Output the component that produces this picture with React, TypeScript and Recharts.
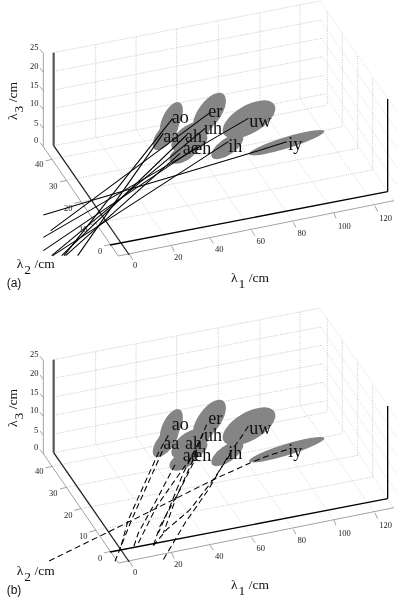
import React from "react";
import { ScatterChart, Scatter, XAxis, YAxis } from "recharts";

type P = { x: number; y: number; [k: string]: any };
const pt = (a: number[][]): P[] => a.map(([x, y]) => ({ x, y }));

// All values are picture-plane readings (3 units per pixel) of the projected 3-D box.
const backLeft = [158, 214, 270, 325, 381, 437];
const backRightX = [960, 962, 965, 968, 970, 975];
const backRightY = [3, 60, 115, 170, 226, 282];
const sideEndY = [334, 390, 446, 501, 557, 605];
const sideEndX = [1190, 1190, 1190, 1190, 1190, 1182];

const backVerticals = [
  [287, 134, 410], [408, 112, 388], [530, 88, 365], [655, 65, 342], [780, 40, 318], [900, 15, 295],
];
const sideVerticals = [
  [982, 35, 315], [1027, 100, 380], [1073, 168, 445], [1118, 235, 510],
];
const floorL1 = [
  [287, 410, 515, 738], [408, 388, 630, 715], [530, 365, 755, 692],
  [655, 342, 880, 667], [780, 318, 1002, 640], [900, 295, 1125, 618],
];
const floorL2 = [
  [288, 670, 1118, 510], [243, 605, 1073, 445], [200, 541, 1027, 380], [156, 478, 982, 315],
];
const thinAxes = [
  [130, 160, 130, 440], [130, 440, 355, 768], [355, 768, 1182, 602],
];
const l3TickY = [160, 216, 272, 328, 384, 440];
const l2Ticks = [[331, 733, 312, 738], [288, 670, 268, 675], [243, 605, 223, 610], [200, 541, 180, 546], [156, 478, 136, 483]];
const l1Ticks = [
  [390, 765, 398, 780], [515, 738, 523, 755], [630, 715, 640, 730], [755, 692, 765, 707],
  [880, 667, 888, 682], [1002, 640, 1008, 655], [1125, 618, 1133, 635],
];

const tickLabels = [
  ["25", 103, 150], ["20", 103, 207], ["15", 103, 263], ["10", 103, 318], ["5", 108, 378], ["0", 108, 429],
  ["40", 118, 501], ["30", 160, 566], ["20", 205, 634], ["10", 250, 696], ["0", 300, 761],
  ["0", 405, 804], ["20", 535, 781], ["40", 658, 757], ["60", 782, 733], ["80", 905, 709], ["100", 1033, 686], ["120", 1157, 663],
];

const phonemes = ["ao", "aa", "er", "ah", "uh", "ae", "eh", "uw", "ih", "iy"];
const ellipseX = [514, 497, 628, 565, 603, 550, 573, 747, 682, 860];
const ellipseY = [360, 405, 340, 410, 390, 460, 435, 358, 440, 428];
const ellipseMajor = [58, 54, 72, 60, 44, 46, 55, 88, 56, 118];
const ellipseMinor = [27, 25, 34, 31, 24, 24, 25, 42, 24, 17];
const ellipseAngle = [-65, -52, -55, -38, -60, -30, -30, -30, -35, -17];

const labelX = [515, 490, 625, 555, 612, 548, 583, 748, 685, 865];
const labelY = [370, 425, 350, 425, 403, 463, 463, 380, 457, 450];

const solidTraces = [
  [[518, 355], [192, 767]],
  [[490, 400], [233, 767]],
  [[630, 338], [152, 692]],
  [[560, 405], [185, 767]],
  [[615, 385], [155, 767]],
  [[540, 460], [197, 767]],
  [[585, 445], [130, 752]],
  [[745, 355], [130, 712]],
  [[685, 425], [158, 767]],
  [[860, 425], [750, 460], [500, 535], [330, 585], [130, 645]],
];
const dashedTraces = [
  [[505, 385], [475, 438], [430, 538], [385, 638], [360, 728]],
  [[487, 433], [440, 538], [395, 638], [345, 763]],
  [[620, 353], [600, 398], [550, 498], [510, 598], [475, 678]],
  [[590, 428], [540, 498], [470, 598], [415, 708]],
  [[610, 378], [575, 468], [530, 568], [490, 678]],
  [[525, 473], [470, 578], [415, 678], [400, 723]],
  [[580, 468], [540, 548], [480, 658], [460, 716]],
  [[745, 358], [725, 388], [690, 438], [625, 548], [555, 648], [490, 758]],
  [[690, 443], [640, 518], [570, 608], [500, 668], [460, 716]],
  [[860, 428], [800, 448], [750, 468], [640, 518], [520, 578], [390, 643], [145, 763]],
];

const SERIF = "Liberation Serif, Times New Roman, serif";
const SANS = "Liberation Sans, Arial, sans-serif";
const UNIT = 1 / 3;
const W = 401;
const H = 300;

const Nothing = () => null;

function seg(key: string, pts: P[], stroke: string, strokeWidth: number, dash?: string) {
  return (
    <Scatter
      key={key}
      data={pts}
      isAnimationActive={false}
      shape={Nothing as any}
      lineType="joint"
      line={{ stroke, strokeWidth, strokeDasharray: dash, fill: "none" } as any}
    />
  );
}

const EllipseShape = (p: any) => (
  <ellipse
    cx={p.cx}
    cy={p.cy}
    rx={p.payload.major * UNIT}
    ry={p.payload.minor * UNIT}
    fill="#858585"
    transform={`rotate(${p.payload.angle} ${p.cx} ${p.cy})`}
  />
);

const TickText = (p: any) => (
  <text x={p.cx} y={p.cy} fontFamily={SERIF} fontSize={8.5} fill="#222" textAnchor="middle">
    {p.payload.text}
  </text>
);
const PhonemeText = (p: any) => (
  <text x={p.cx} y={p.cy} fontFamily={SERIF} fontSize={18} fill="#111">
    {p.payload.text}
  </text>
);
const TitleText = (p: any) => (
  <text
    x={p.cx}
    y={p.cy}
    fontFamily={SERIF}
    fontSize={13.5}
    fill="#111"
    transform={p.payload.rot ? `rotate(${p.payload.rot} ${p.cx} ${p.cy})` : undefined}
  >
    <tspan>λ</tspan>
    <tspan dy={6} dx={1}>{p.payload.sub}</tspan>
    <tspan dy={-6} dx={3.5}>/cm</tspan>
  </text>
);
const PanelText = (p: any) => (
  <text x={p.cx} y={p.cy} fontFamily={SANS} fontSize={12} fill="#111">
    {p.payload.text}
  </text>
);

const ellipses = phonemes.map((name, i) => ({
  x: ellipseX[i], y: ellipseY[i], major: ellipseMajor[i], minor: ellipseMinor[i], angle: ellipseAngle[i], name,
}));
const labels = phonemes.map((text, i) => ({ x: labelX[i], y: labelY[i], text }));
const ticks = tickLabels.map(([text, x, y]) => ({ text, x, y })) as P[];
const titles: P[] = [
  { x: 693, y: 845, sub: "1" },
  { x: 50, y: 805, sub: "2" },
  { x: 52, y: 360, sub: "3", rot: -90 },
];

function Panel({ traces, dash, letter }: { traces: number[][][]; dash?: string; letter: string }) {
  const g = "#c8c8c8";
  const gd = "1 1.4";
  const t = "#8c8c8c";
  const series: React.ReactNode[] = [];
  backLeft.forEach((y, i) =>
    series.push(seg(`b${i}`, pt([[161, y], [backRightX[i], backRightY[i]]]), g, 1, gd))
  );
  backRightX.forEach((x, i) =>
    series.push(seg(`s${i}`, pt([[x, backRightY[i]], [sideEndX[i], sideEndY[i]]]), "#d4d4d4", 0.8, gd))
  );
  backVerticals.forEach(([x, a, b], i) => series.push(seg(`v${i}`, pt([[x, a], [x, b]]), g, 1, gd)));
  sideVerticals.forEach(([x, a, b], i) => series.push(seg(`w${i}`, pt([[x, a], [x, b]]), g, 1, gd)));
  floorL1.forEach(([a, b, c, d], i) => series.push(seg(`f${i}`, pt([[a, b], [c, d]]), "#cccccc", 0.8, gd)));
  floorL2.forEach(([a, b, c, d], i) => series.push(seg(`l${i}`, pt([[a, b], [c, d]]), g, 1, gd)));
  thinAxes.forEach(([a, b, c, d], i) => series.push(seg(`a${i}`, pt([[a, b], [c, d]]), t, 0.8)));
  l3TickY.forEach((y, i) => series.push(seg(`t3${i}`, pt([[130, y], [120, y - 12]]), t, 0.8)));
  l2Ticks.forEach(([a, b, c, d], i) => series.push(seg(`t2${i}`, pt([[a, b], [c, d]]), t, 0.8)));
  l1Ticks.forEach(([a, b, c, d], i) => series.push(seg(`t1${i}`, pt([[a, b], [c, d]]), t, 0.8)));
  return (
    <ScatterChart width={W} height={H} margin={{ top: 0, right: 0, bottom: 0, left: 0 }}>
      <XAxis type="number" dataKey="x" domain={[0, 1203]} hide allowDataOverflow />
      <YAxis type="number" dataKey="y" domain={[0, 900]} reversed hide allowDataOverflow />
      {series}
      {seg("thick3", pt([[161, 158], [161, 437]]), "#555", 2.2)}
      {seg("thick2", pt([[161, 437], [388, 765]]), "#222", 1.3)}
      {seg("thick1", pt([[330, 735], [1163, 575]]), "#000", 1.3)}
      {seg("thickR", pt([[1163, 297], [1163, 575]]), "#000", 1.3)}
      <Scatter data={ellipses} isAnimationActive={false} shape={EllipseShape as any} />
      {traces.map((tr, i) => seg(`tr${i}`, pt(tr), "#000", 1.05, dash))}
      <Scatter data={labels} isAnimationActive={false} shape={PhonemeText as any} />
      <Scatter data={ticks} isAnimationActive={false} shape={TickText as any} />
      <Scatter data={titles} isAnimationActive={false} shape={TitleText as any} />
      <Scatter data={[{ x: 20, y: 860, text: letter }]} isAnimationActive={false} shape={PanelText as any} />
    </ScatterChart>
  );
}

export default function App() {
  return (
    <div style={{ position: "absolute", left: 0, top: 0, width: 401, height: 600, overflow: "hidden", background: "#fff", filter: "blur(0.35px)" }}>
      <div style={{ position: "absolute", left: 0, top: 0 }}>
        <Panel traces={solidTraces} letter="(a)" />
      </div>
      <div style={{ position: "absolute", left: 0, top: 300 + 22 / 3 }}>
        <Panel traces={dashedTraces} dash="6 3.5" letter="(b)" />
      </div>
    </div>
  );
}
